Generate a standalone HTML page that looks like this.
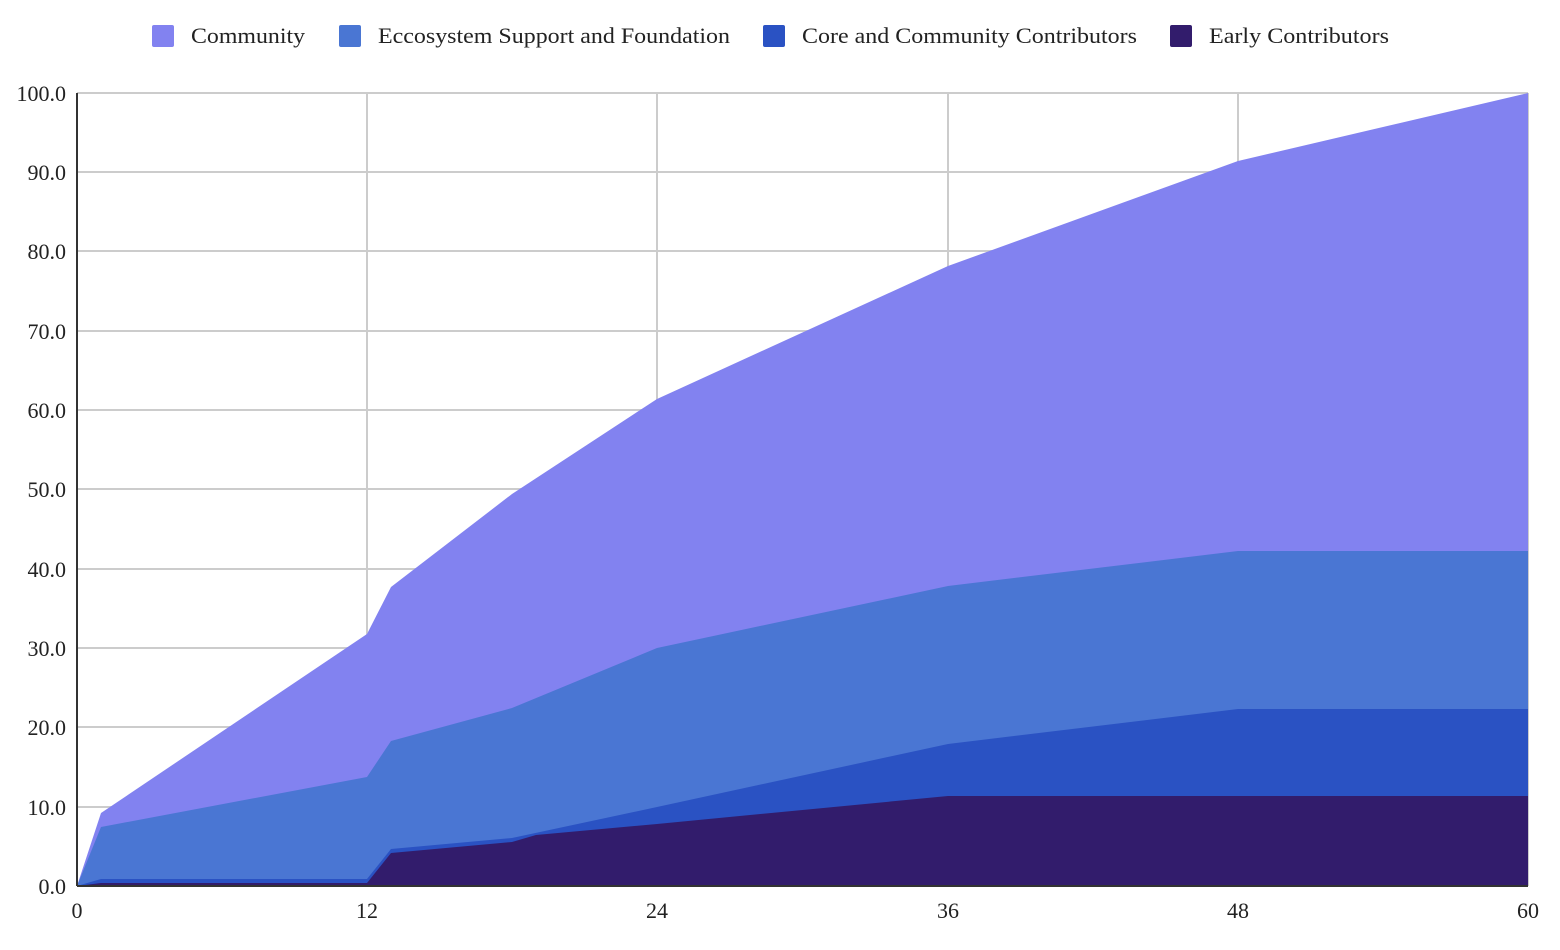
<!DOCTYPE html>
<html><head><style>
body{margin:0;background:#fff;}
svg text{font-family:"Liberation Serif",serif;fill:#222;}
</style></head><body>
<svg width="1560" height="945" xmlns="http://www.w3.org/2000/svg">
<g font-size="22">
<rect x="152" y="25" width="22" height="22" rx="2" fill="#8282f0"/><text x="191" y="43" textLength="114" lengthAdjust="spacingAndGlyphs">Community</text>
<rect x="339" y="25" width="22" height="22" rx="2" fill="#4a76d3"/><text x="378" y="43" textLength="352" lengthAdjust="spacingAndGlyphs">Eccosystem Support and Foundation</text>
<rect x="763" y="25" width="22" height="22" rx="2" fill="#2a52c3"/><text x="802" y="43" textLength="335" lengthAdjust="spacingAndGlyphs">Core and Community Contributors</text>
<rect x="1170" y="25" width="22" height="22" rx="2" fill="#321c6c"/><text x="1209" y="43" textLength="180" lengthAdjust="spacingAndGlyphs">Early Contributors</text>
</g>
<g stroke="#cccccc" stroke-width="2">
<line x1="77" y1="93" x2="1528" y2="93"/><line x1="77" y1="172" x2="1528" y2="172"/><line x1="77" y1="251" x2="1528" y2="251"/><line x1="77" y1="331" x2="1528" y2="331"/><line x1="77" y1="410" x2="1528" y2="410"/><line x1="77" y1="489" x2="1528" y2="489"/><line x1="77" y1="569" x2="1528" y2="569"/><line x1="77" y1="648" x2="1528" y2="648"/><line x1="77" y1="727" x2="1528" y2="727"/><line x1="77" y1="807" x2="1528" y2="807"/>
<line x1="367" y1="93" x2="367" y2="886"/><line x1="657" y1="93" x2="657" y2="886"/><line x1="948" y1="93" x2="948" y2="886"/><line x1="1238" y1="93" x2="1238" y2="886"/><line x1="1528" y1="93" x2="1528" y2="886"/>
</g>
<polygon fill="#8282f0" points="77,886 101,813 367,634 391,587 512,494 657,399 948,266 1238,161 1528,93 1528,886"/>
<polygon fill="#4a76d3" points="77,886 101,827 367,777 391,741 512,708 657,648 948,586 1238,551 1528,551 1528,886"/>
<polygon fill="#2a52c3" points="77,886 101,879 367,879 391,849 512,838 657,807 948,744 1238,709 1528,709 1528,886"/>
<polygon fill="#321c6c" points="77,886 101,883 367,883 391,853 512,842 536,835 657,824 948,796 1238,796 1528,796 1528,886"/>
<line x1="77" y1="886" x2="1528" y2="886" stroke="#333" stroke-width="2"/>
<line x1="77" y1="93" x2="77" y2="886" stroke="#333" stroke-width="2"/>
<g font-size="22" text-anchor="end">
<text x="66" y="101">100.0</text><text x="66" y="180">90.0</text><text x="66" y="259">80.0</text><text x="66" y="339">70.0</text><text x="66" y="418">60.0</text><text x="66" y="497">50.0</text><text x="66" y="577">40.0</text><text x="66" y="656">30.0</text><text x="66" y="735">20.0</text><text x="66" y="815">10.0</text><text x="66" y="894">0.0</text>
</g>
<g font-size="22" text-anchor="middle">
<text x="77" y="918">0</text><text x="367" y="918">12</text><text x="657" y="918">24</text><text x="948" y="918">36</text><text x="1238" y="918">48</text><text x="1528" y="918">60</text>
</g>
</svg>
</body></html>
